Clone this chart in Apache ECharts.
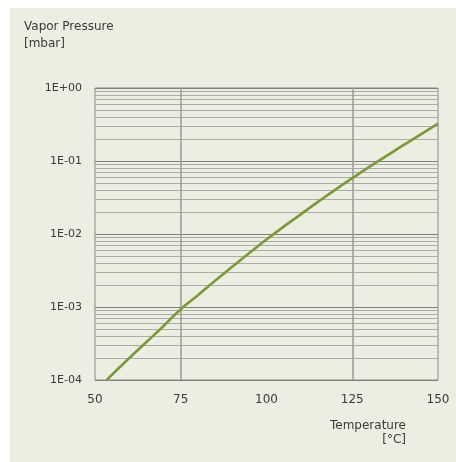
<!DOCTYPE html>
<html>
<head>
<meta charset="utf-8">
<style>
    html, body { margin: 0; padding: 0; background: #fff; }
    #main { width: 456px; height: 462px; }
</style>
</head>
<body>
<div id="main"></div>
<script src="https://cdn.jsdelivr.net/npm/echarts@6/dist/echarts.min.js"></script>
<script>
// temperature [°C] and vapor pressure [mbar]
var temps = [53.4, 60, 65, 70, 75, 80, 85, 90, 95, 100, 105, 110, 115, 120, 125, 130, 135, 140, 145, 150];
var pressures = [1.0e-4, 2.0e-4, 3.31e-4, 5.5e-4, 9.33e-4, 1.45e-3, 2.29e-3, 3.55e-3, 5.5e-3, 8.41e-3,
                 1.26e-2, 1.86e-2, 2.75e-2, 4.03e-2, 5.82e-2, 8.32e-2, 0.1175, 0.166, 0.232, 0.324];
var yLabels = ['1E-04', '1E-03', '1E-02', '1E-01', '1E+00'];
var xLabels = [50, 75, 100, 125, 150];
var xGridLines = [75, 125];

// minor gridlines at 2..9 of each decade
var minorLines = [];
for (var d = -4; d < 0; d++) {
    for (var k = 2; k <= 9; k++) {
        minorLines.push(k * Math.pow(10, d));
    }
}

var myChart = echarts.init(document.getElementById('main'));
var txt = { fontSize: 12, fill: '#3a3a3a', fontFamily: 'DejaVu Sans' };
var option = {
    animation: false,
    textStyle: { fontFamily: 'DejaVu Sans' },
    graphic: [
        { type: 'rect', shape: { x: 10, y: 8, width: 446, height: 454 }, style: { fill: '#ebeee0' }, z: -10 },
        { type: 'text', left: 24, top: 21, style: Object.assign({ text: 'Vapor Pressure' }, txt) },
        { type: 'text', left: 24, top: 38, style: Object.assign({ text: '[mbar]' }, txt) },
        { type: 'text', right: 50, top: 420, style: Object.assign({ text: 'Temperature', align: 'right' }, txt) },
        { type: 'text', right: 50, top: 434, style: Object.assign({ text: '[°C]', align: 'right' }, txt) }
    ],
    grid: {
        left: 95, top: 88, right: 18, bottom: 82,
        show: true, borderColor: '#8a8a8a', borderWidth: 1
    },
    xAxis: {
        type: 'value',
        min: 50, max: 150, interval: 25,
        axisLine: { show: false },
        axisTick: { show: false },
        splitLine: { show: false },
        axisLabel: {
            margin: 14, fontSize: 12, color: '#3a3a3a',
            formatter: function (v) { return xLabels.indexOf(v) >= 0 ? String(v) : ''; }
        }
    },
    yAxis: {
        type: 'log', logBase: 10,
        min: 1e-4, max: 1,
        axisLine: { show: false },
        axisTick: { show: false },
        splitLine: { show: true, lineStyle: { color: '#808080', width: 1 } },
        axisLabel: {
            margin: 13, fontSize: 11, color: '#3a3a3a',
            formatter: function (v) {
                var i = Math.round(Math.log10(v)) + 4;
                return yLabels[i] || '';
            }
        }
    },
    series: [{
        type: 'lines',
        coordinateSystem: 'cartesian2d',
        silent: true,
        z: 1,
        lineStyle: { color: '#aaabaa', width: 1, opacity: 1 },
        data: minorLines.map(function (v) { return { coords: [[50, v], [150, v]] }; })
    }, {
        type: 'lines',
        coordinateSystem: 'cartesian2d',
        silent: true,
        z: 2,
        lineStyle: { color: '#9a9a9a', width: 1.5, opacity: 1 },
        data: xGridLines.map(function (x) { return { coords: [[x, 1e-4], [x, 1]] }; })
    }, {
        type: 'line',
        data: temps.map(function (t, i) { return [t, pressures[i]]; }),
        smooth: true,
        showSymbol: false,
        lineStyle: { color: '#7a9a38', width: 2.6 },
        z: 5
    }]
};
myChart.setOption(option);
</script>
</body>
</html>
